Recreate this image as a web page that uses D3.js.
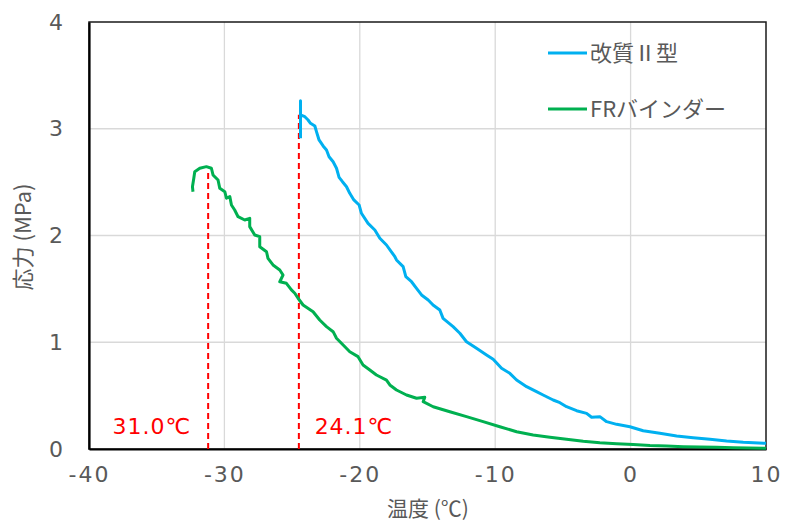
<!DOCTYPE html>
<html><head><meta charset="utf-8">
<script src="https://cdn.jsdelivr.net/npm/d3@7"></script>
<style>
html,body{margin:0;padding:0;background:#fff;}
text{font-family:"DejaVu Sans","Noto Sans CJK JP",sans-serif;}
.jp{font-family:"Noto Sans CJK JP",sans-serif;}
</style></head>
<body>
<svg id="chart" width="785" height="522"></svg>
<script>
// ---- data ----
const xTicks = [-40, -30, -20, -10, 0, 10];
const yTicks = [0, 1, 2, 3, 4];
const seriesNames = ["改質Ⅱ型", "FRバインダー"];
const seriesColors = ["#00B0F0", "#00B050"];

const kaishitsuT = [-24.38,-24.38,-24.38,-24.06,-23.82,-23.64,-23.32,-23.20,-23.01,-22.71,-22.46,-22.27,-21.97,-21.72,-21.53,-21.28,-20.98,-20.74,-20.44,-20.05,-19.88,-19.39,-18.89,-18.52,-18.03,-17.41,-17.29,-16.80,-16.60,-16.18,-15.81,-15.44,-14.95,-14.59,-14.09,-13.85,-13.11,-12.61,-12.12,-11.38,-10.64,-10.15,-9.53,-8.92,-8.42,-7.68,-6.95,-6.46,-5.72,-5.22,-4.73,-3.99,-3.25,-2.88,-2.27,-1.77,-1.03,-0.05,0.93,2.16,3.40,4.62,5.86,7.09,8.32,10.0];
const kaishitsuS = [2.911,3.263,3.129,3.113,3.082,3.051,3.026,2.973,2.895,2.839,2.801,2.738,2.691,2.630,2.545,2.504,2.457,2.395,2.333,2.286,2.208,2.114,2.052,1.974,1.911,1.801,1.771,1.708,1.614,1.567,1.505,1.443,1.396,1.349,1.302,1.224,1.146,1.084,1.005,0.943,0.881,0.840,0.756,0.709,0.646,0.584,0.537,0.506,0.459,0.434,0.396,0.359,0.334,0.297,0.303,0.256,0.231,0.208,0.171,0.147,0.122,0.106,0.091,0.075,0.063,0.053];

const frT = [-32.32,-32.36,-32.26,-32.19,-31.82,-31.33,-30.96,-30.84,-30.47,-30.34,-29.97,-29.85,-29.60,-29.48,-29.24,-28.99,-28.50,-28.13,-28.13,-27.76,-27.39,-27.39,-26.89,-26.78,-26.41,-25.91,-25.67,-25.91,-25.42,-25.05,-24.80,-24.56,-24.19,-23.45,-22.96,-22.46,-21.97,-21.72,-21.23,-20.74,-20.13,-19.76,-19.26,-18.77,-18.03,-17.78,-17.29,-16.55,-15.81,-15.20,-15.32,-14.58,-13.35,-12.12,-10.89,-9.66,-8.42,-7.20,-5.96,-4.73,-3.50,-2.27,-1.03,0.19,1.43,2.66,3.89,5.12,6.35,7.58,10.0];
const frS = [2.410,2.457,2.536,2.598,2.630,2.645,2.630,2.567,2.520,2.442,2.410,2.349,2.364,2.286,2.239,2.176,2.145,2.161,2.083,2.005,1.989,1.895,1.848,1.786,1.724,1.677,1.630,1.567,1.552,1.490,1.459,1.412,1.349,1.286,1.208,1.146,1.099,1.037,0.974,0.911,0.865,0.787,0.740,0.693,0.646,0.600,0.553,0.506,0.475,0.484,0.443,0.396,0.349,0.303,0.256,0.209,0.162,0.131,0.110,0.091,0.072,0.059,0.050,0.042,0.033,0.028,0.022,0.019,0.016,0.012,0.007];

const markerT = [-31.2, -24.5];
const markerS = [2.60, 3.13];
const markerLabels = ["31.0℃", "24.1℃"];
const markerLabelT = [-35.35, -20.43];

// ---- layout ----
const svg = d3.select("#chart");
const L = 89, R = 766, T = 22, B = 449;
const x = d3.scaleLinear().domain([-40, 10]).range([L, R]);
const y = d3.scaleLinear().domain([0, 4]).range([B, T]);
const gray = "#595959";

// grid
svg.append("g").selectAll("line").data(xTicks.slice(1, -1)).join("line")
  .attr("x1", d => x(d)).attr("x2", d => x(d)).attr("y1", T).attr("y2", B)
  .attr("stroke", "#d9d9d9").attr("stroke-width", 1.3);
svg.append("g").selectAll("line").data(yTicks.slice(1, -1)).join("line")
  .attr("y1", d => y(d)).attr("y2", d => y(d)).attr("x1", L).attr("x2", R)
  .attr("stroke", "#d9d9d9").attr("stroke-width", 1.3);

// frame
svg.append("rect").attr("x", L).attr("y", T).attr("width", R - L).attr("height", B - T)
  .attr("fill", "none").attr("stroke", "#1a1a1a").attr("stroke-width", 1.5);

// axes
const xAxis = svg.append("g").attr("transform", `translate(0,${B})`)
  .call(d3.axisBottom(x).tickValues(xTicks).tickSize(0).tickPadding(17).tickFormat(d => d < 0 ? "-" + Math.abs(d) : String(d)));
xAxis.select(".domain").attr("stroke", "#000").attr("stroke-width", 2.2);
const yAxis = svg.append("g").attr("transform", `translate(${L},0)`)
  .call(d3.axisLeft(y).tickValues(yTicks).tickSize(0).tickPadding(26).tickFormat(d3.format("d")));
yAxis.select(".domain").attr("stroke", "#000").attr("stroke-width", 2.2);
svg.selectAll(".tick text").attr("fill", gray).attr("font-size", 22)
  .attr("font-family", "DejaVu Sans").style("letter-spacing", "2px");
yAxis.selectAll(".tick text").style("letter-spacing", "0px");

// marker dashed lines
markerT.forEach((t, i) => {
  svg.append("line").attr("x1", x(t)).attr("x2", x(t)).attr("y1", y(0)).attr("y2", y(markerS[i]))
    .attr("stroke", "#FF0000").attr("stroke-width", 2).attr("stroke-dasharray", "6,4");
  svg.append("text").attr("x", x(markerLabelT[i])).attr("y", 434)
    .attr("fill", "#FF0000").attr("font-size", 22).attr("text-anchor", "middle")
    .style("letter-spacing", "1px").text(markerLabels[i]);
});

// lines
const line = d3.line().x(d => x(d[0])).y(d => y(d[1]));
const seriesData = [d3.zip(kaishitsuT, kaishitsuS), d3.zip(frT, frS)];
seriesData.forEach((s, i) => {
  svg.append("path").datum(s).attr("d", line).attr("fill", "none")
    .attr("stroke", seriesColors[i]).attr("stroke-width", 3).attr("stroke-linejoin", "round");
});

// legend
const legY = [53, 109];
seriesNames.forEach((n, i) => {
  svg.append("line").attr("x1", 548).attr("x2", 587).attr("y1", legY[i]).attr("y2", legY[i])
    .attr("stroke", seriesColors[i]).attr("stroke-width", 3);
  svg.append("text").attr("class", "jp").attr("x", 590).attr("y", legY[i] + 8)
    .attr("fill", gray).attr("font-size", 22).text(n);
});

// axis titles
svg.append("text").attr("class", "jp").attr("x", 428).attr("y", 516).attr("text-anchor", "middle")
  .attr("fill", gray).attr("font-size", 21).text("温度 (℃)");
svg.append("text").attr("class", "jp").attr("transform", "translate(31,237) rotate(-90)")
  .attr("text-anchor", "middle").attr("fill", gray).attr("font-size", 22).text("応力 (MPa)");
</script>
</body></html>
